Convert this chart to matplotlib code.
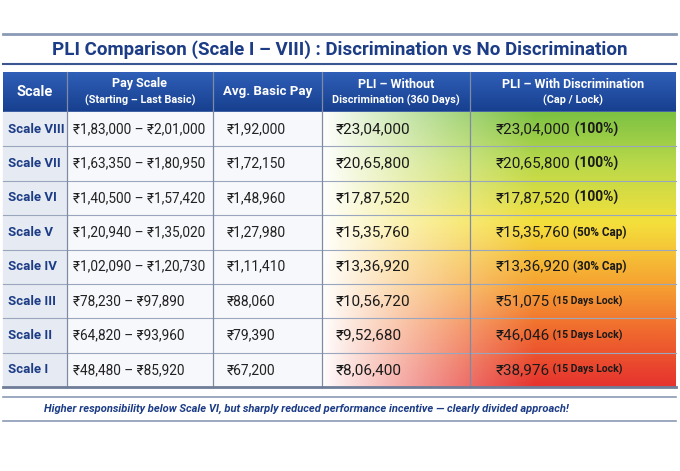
import matplotlib
matplotlib.use("Agg")
import matplotlib.pyplot as plt
import numpy as np
from matplotlib.colors import LinearSegmentedColormap

scales = ["Scale VIII", "Scale VII", "Scale VI", "Scale V", "Scale IV", "Scale III", "Scale II", "Scale I"]
pay_scale = ["₹1,83,000 – ₹2,01,000", "₹1,63,350 – ₹1,80,950", "₹1,40,500 – ₹1,57,420",
             "₹1,20,940 – ₹1,35,020", "₹1,02,090 – ₹1,20,730", "₹78,230 – ₹97,890",
             "₹64,820 – ₹93,960", "₹48,480 – ₹85,920"]
avg_basic = ["₹1,92,000", "₹1,72,150", "₹1,48,960", "₹1,27,980", "₹1,11,410", "₹88,060", "₹79,390", "₹67,200"]
pli_without = ["₹23,04,000", "₹20,65,800", "₹17,87,520", "₹15,35,760", "₹13,36,920", "₹10,56,720", "₹9,52,680", "₹8,06,400"]
pli_with = ["₹23,04,000", "₹20,65,800", "₹17,87,520", "₹15,35,760", "₹13,36,920", "₹51,075", "₹46,046", "₹38,976"]
pli_note = ["(100%)", "(100%)", "(100%)", "(50% Cap)", "(30% Cap)", "(15 Days Lock)", "(15 Days Lock)", "(15 Days Lock)"]
title = "PLI Comparison (Scale I – VIII) : Discrimination vs No Discrimination"
footer = "Higher responsibility below Scale VI, but sharply reduced performance incentive — clearly divided approach!"

plt.rcParams['font.family'] = ["Roboto", "Noto Sans", "DejaVu Sans"]
W, H = 680, 471
fig = plt.figure(figsize=(W/100, H/100), dpi=100)
ax = fig.add_axes([0, 0, 1, 1])
ax.set_xlim(0, W); ax.set_ylim(H, 0); ax.axis('off')

navy = "#1c3c86"
cols = [3, 67, 213, 322, 470, 676]
hy0, hy1 = 72, 112
ry = np.linspace(112, 387, len(scales) + 1)

ax.plot([3, 676], [34, 34], color="#8a9ab5", lw=2)
ax.plot([3, 676], [64, 64], color="#3a5590", lw=1.5)
ax.text(W/2, 50, title, ha='center', va='center', fontsize=13.5, fontweight='bold', color=navy)

hg = np.linspace(0, 1, 50)[:, None]
hcm = LinearSegmentedColormap.from_list("h", ["#2f5fb8", "#173f8e"])
ax.imshow(hg, extent=(cols[0], cols[-1], hy1, hy0), cmap=hcm, aspect='auto', zorder=1)
heads = [("Scale", None), ("Pay Scale", "(Starting – Last Basic)"), ("Avg. Basic Pay", None),
         ("PLI – Without", "Discrimination (360 Days)"), ("PLI – With Discrimination", "(Cap / Lock)")]
for i, (a, b) in enumerate(heads):
    cx = (cols[i] + cols[i+1]) / 2
    if b is None:
        ax.text(cx, 92, a, ha='center', va='center', color='white', fontsize=10.5 if i == 0 else 9.5, fontweight='bold', zorder=3)
    else:
        ax.text(cx, 84, a, ha='center', va='center', color='white', fontsize=9, fontweight='bold', zorder=3)
        ax.text(cx, 100, b, ha='center', va='center', color='white', fontsize=7.8, fontweight='bold', zorder=3)

ax.add_patch(plt.Rectangle((cols[0], ry[0]), cols[1]-cols[0], ry[-1]-ry[0], color="#e6eaf2", zorder=1))
ax.add_patch(plt.Rectangle((cols[1], ry[0]), cols[3]-cols[1], ry[-1]-ry[0], color="#f7f8fb", zorder=1))
ny, nx = 200, 300
yy = np.linspace(0, 1, ny)[:, None]
xx = np.linspace(0, 1, nx)[None, :]
vcm = LinearSegmentedColormap.from_list("v", [(0, "#7dc243"), (0.18, "#b8d84a"), (0.4, "#f4e03c"),
                                               (0.62, "#f6a532"), (0.8, "#f0692e"), (1, "#e6332e")])
rgb = vcm(np.broadcast_to(yy, (ny, nx)))
alpha = np.clip(xx / 0.6, 0, 1) ** 0.9
rgb[..., 3] = np.broadcast_to(alpha, (ny, nx))
ax.add_patch(plt.Rectangle((cols[3], ry[0]), cols[5]-cols[3], ry[-1]-ry[0], color="white", zorder=1))
ax.imshow(rgb, extent=(cols[3], cols[5], ry[-1], ry[0]), aspect='auto', zorder=2, interpolation='bilinear')

for y in ry[1:-1]:
    ax.plot([cols[0], cols[-1]], [y, y], color="#9aa6bd", lw=0.8, zorder=3)
for x in cols[1:-1]:
    ax.plot([x, x], [hy0, ry[-1]], color="#7f8aa3", lw=0.9, zorder=3)
ax.plot([cols[0], cols[-1]], [ry[-1], ry[-1]], color="#6f7d99", lw=2, zorder=3)

for i in range(len(scales)):
    cy = (ry[i] + ry[i+1]) / 2
    ax.text(cols[0] + 5, cy, scales[i], ha='left', va='center', fontsize=9.5, fontweight='bold', color=navy, zorder=4)
    ax.text(cols[1] + 6, cy, pay_scale[i], ha='left', va='center', fontsize=9.8, color="#222", zorder=4)
    ax.text(cols[2] + 14, cy, avg_basic[i], ha='left', va='center', fontsize=10, color="#222", zorder=4)
    ax.text(cols[3] + 14, cy, pli_without[i], ha='left', va='center', fontsize=11, color="#1a1a1a", zorder=4)
    t = ax.text(cols[4] + 26, cy, pli_with[i], ha='left', va='center', fontsize=11, color="#1a1a1a", zorder=4)
    fs = 10 if i < 3 else (8.5 if i < 5 else 7.5)
    ax.annotate(" " + pli_note[i], xycoords=t, xy=(1, 0.5), va='center', ha='left',
                fontsize=fs, fontweight='bold', color="#1a1a1a", zorder=4)

ax.plot([3, 676], [397, 397], color="#8a9ab5", lw=1.2)
ax.plot([3, 676], [421, 421], color="#8a9ab5", lw=1.2)
ax.text(44, 409, footer, ha='left', va='center', fontsize=8, fontstyle='italic', fontweight='bold', color=navy)

fig.savefig("out.png", dpi=100)
